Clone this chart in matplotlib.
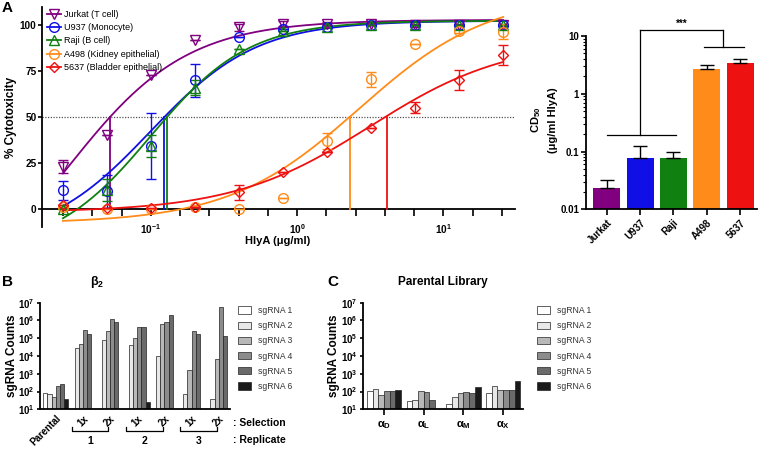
import numpy as np
import matplotlib
matplotlib.use("Agg")
import matplotlib.pyplot as plt
from matplotlib.transforms import blended_transform_factory
from matplotlib.lines import Line2D

plt.rcParams['font.family'] = ['Liberation Sans', 'DejaVu Sans']
plt.rcParams['mathtext.fontset'] = 'custom'
plt.rcParams['mathtext.rm'] = 'Liberation Sans'
plt.rcParams['mathtext.bf'] = 'Liberation Sans:bold'
plt.rcParams['mathtext.it'] = 'Liberation Sans:italic'

# ---------------- Panel A data ----------------
conc = [0.025, 0.05, 0.1, 0.2, 0.4, 0.8, 1.6, 3.2, 6.4, 12.8, 25.6]
cell_lines = ["Jurkat (T cell)", "U937 (Monocyte)", "Raji (B cell)",
              "A498 (Kidney epithelial)", "5637 (Bladder epithelial)"]
jurkat = [23, 40, 73, 92, 99, 101, 101, 101, 100, 100, 100]
jurkat_err = [3.5, 0, 0, 0, 2, 1.5, 1, 1, 1, 0.5, 0.5]
u937 = [10, 9.5, 34, 70, 93.5, 98, 99, 100, 100, 100, 100]
u937_err = [5, 9, 18, 9, 0, 0, 0, 0, 0, 0, 0]
raji = [0, 10, 34, 66, 87, 97, 99, 100, 100, 100, 100]
raji_err = [0, 6, 6, 4, 0, 0, 0, 0, 0, 0, 0]
a498 = [1, 0, 0, 1, 0, 6, 37, 70.5, 90, 97, 96.5]
a498_err = [0, 0, 0, 0, 0, 0, 4.5, 4, 0, 1, 4]
c5637 = [2, 0.5, 0.5, 1, 9, 20, 31, 44, 55, 70, 84]
c5637_err = [0, 0, 0, 0, 4, 0, 0, 0, 3, 5.5, 5.5]
# four-parameter logistic fits: bottom, top, log10 midpoint, hill slope
fit_bottom = [-60, -18, -23, -8, -2]
fit_top = [103, 102.5, 102.5, 117, 92]
fit_logmid = [-1.579, -1.002, -1.0, 0.4225, 0.5]
fit_hill = [1.06, 1.2, 1.3, 0.97, 0.92]
cd50_line = [0.0525, 0.1236, 0.129, 2.28, 4.11]

# CD50 bar chart
bar_names = ["Jurkat", "U937", "Raji", "A498", "5637"]
cd50 = [0.0237, 0.078, 0.078, 2.67, 3.43]
cd50_err = [0.0083, 0.048, 0.022, 0.47, 0.61]

# ---------------- Panel B data ----------------
b_groups = ["Parental", "1x", "2x", "1x", "2x", "1x", "2x"]
b_sg1 = [79, 0, 0, 0, 0, 0, 0]
b_sg2 = [70, 2.9e4, 8e4, 4.2e4, 1.05e4, 73, 38]
b_sg3 = [47, 4.8e4, 2.6e5, 1.07e5, 6e5, 1.6e3, 6.5e3]
b_sg4 = [205, 2.9e5, 1.2e6, 4.1e5, 8.5e5, 2.7e5, 5.5e6]
b_sg5 = [266, 1.7e5, 8.3e5, 4.1e5, 2e6, 1.7e5, 1.4e5]
b_sg6 = [36, 0, 0, 27, 0, 0, 0]
replicates = ["1", "2", "3"]

# ---------------- Panel C data ----------------
c_groups = [r"$\mathbf{\alpha_D}$", r"$\mathbf{\alpha_L}$", r"$\mathbf{\alpha_M}$", r"$\mathbf{\alpha_X}$"]
c_sg1 = [113, 30, 19, 79]
c_sg2 = [141, 33, 51, 208]
c_sg3 = [66, 108, 83, 128]
c_sg4 = [103, 98, 98, 128]
c_sg5 = [113, 33, 87, 123]
c_sg6 = [123, 0, 190, 400]

sg_labels = ["sgRNA 1", "sgRNA 2", "sgRNA 3", "sgRNA 4", "sgRNA 5", "sgRNA 6"]
sg_colors = ["#ffffff", "#e8e8e8", "#b8b8b8", "#8c8c8c", "#6a6a6a", "#1a1a1a"]

line_colors = ["#800080", "#1010e6", "#108010", "#ff8c1a", "#ee1111"]
markers = ["v", "o", "^", "o", "D"]
msizes = [7, 7, 7, 7, 5.5]

W, H = 760, 449
fig = plt.figure(figsize=(W / 100, H / 100), dpi=100)


def rect(l, t, r, b):
    return [l / W, 1 - b / H, (r - l) / W, (b - t) / H]


# ================= Panel A =================
axA = fig.add_axes(rect(42, 7, 515, 227))
series = [jurkat, u937, raji, a498, c5637]
errs = [jurkat_err, u937_err, raji_err, a498_err, c5637_err]
xs = np.logspace(np.log10(conc[0]), np.log10(conc[-1]), 300)
handles = []
for i in range(5):
    col = line_colors[i]
    y = fit_bottom[i] + (fit_top[i] - fit_bottom[i]) / (1 + 10 ** (fit_hill[i] * (fit_logmid[i] - np.log10(xs))))
    axA.plot(xs, y, color=col, lw=1.3, zorder=3)
    axA.errorbar(conc, series[i], yerr=errs[i], fmt='none', ecolor=col, elinewidth=1.0,
                 capsize=3.5, capthick=1.0, zorder=4)
    axA.plot(conc, series[i], linestyle='none', marker=markers[i], ms=msizes[i], mfc='none',
             mec=col, mew=1.0, zorder=5)
    axA.plot([cd50_line[i], cd50_line[i]], [0, 50], color=col, lw=1.3, zorder=3)
    handles.append(Line2D([], [], color=col, lw=1.3, marker=markers[i], ms=msizes[i],
                          mfc='none', mec=col, mew=1.0))
axA.axhline(50, color='#555555', lw=0.9, ls=(0, (1, 1.2)), zorder=1)
axA.set_xscale('log')
axA.set_xlim(10 ** -1.745, 10 ** 1.489)
axA.set_ylim(-10, 110)
axA.spines['top'].set_visible(False)
axA.spines['right'].set_visible(False)
axA.spines['bottom'].set_position(('data', 0))
axA.spines['left'].set_linewidth(1.3)
axA.spines['bottom'].set_linewidth(1.3)
axA.set_yticks([0, 25, 50, 75, 100])
axA.set_yticklabels(["0", "25", "50", "75", "100"], fontweight='bold', fontsize=7.2)
axA.tick_params(axis='y', direction='out', length=3, width=1.2, pad=1)
tk = 10 ** np.arange(-1.6, 1.41, 0.2)
axA.xaxis.set_minor_locator(matplotlib.ticker.NullLocator())
axA.set_xticks(tk)
labs = []
for t in np.arange(-1.6, 1.41, 0.2):
    r = round(t, 1)
    if abs(r - round(r)) < 1e-6:
        labs.append(r"$\mathbf{10^{%d}}$" % int(round(r)))
    else:
        labs.append("")
axA.set_xticklabels(labs, fontsize=7.2)
axA.tick_params(axis='x', direction='out', length=5, width=1.2, pad=4.5)
axA.set_ylabel("% Cytotoxicity", fontweight='bold', fontsize=8.5)
axA.yaxis.set_label_coords(-0.053, 0.5)
fig.text(278 / W, 1 - 240.5 / H, "HlyA (μg/ml)", fontweight='bold', fontsize=8,
         ha='center', va='center')
leg = axA.legend(handles, cell_lines, loc='upper left', bbox_to_anchor=(0.0, 1.012),
                 frameon=False, fontsize=6.5, labelspacing=0.48, handlelength=1.5,
                 handletextpad=0.35, borderpad=0.1)
fig.text(2 / W, 1 - 8 / H, "A", fontweight='bold', fontsize=11, ha='left', va='center')

# ================= CD50 bar chart =================
axD = fig.add_axes(rect(586, 36, 757, 209.3))
xpos = np.arange(len(bar_names))
axD.bar(xpos, cd50, width=0.81, color=line_colors, zorder=2)
axD.errorbar(xpos, cd50, yerr=[np.zeros(5), cd50_err], fmt='none', ecolor='black',
             elinewidth=1.0, capsize=5, capthick=1.0, zorder=3)
axD.set_yscale('log')
axD.set_ylim(0.01, 10)
axD.set_xlim(-0.62, 4.51)
axD.spines['top'].set_visible(False)
axD.spines['right'].set_visible(False)
axD.spines['left'].set_linewidth(1.3)
axD.spines['bottom'].set_linewidth(1.3)
axD.set_yticks([0.01, 0.1, 1, 10])
axD.set_yticklabels(["0.01", "0.1", "1", "10"], fontweight='bold', fontsize=7)
axD.tick_params(axis='y', which='major', length=3.5, width=1.2, pad=1.5)
axD.tick_params(axis='y', which='minor', length=2, width=0.8)
axD.set_xticks(xpos)
axD.set_xticklabels(bar_names, rotation=45, ha='right', rotation_mode='anchor',
                    fontweight='bold', fontsize=7)
axD.tick_params(axis='x', length=4, width=1.2, pad=2)
kw = dict(color='black', lw=0.9, clip_on=False)
axD.plot([0.02, 2.08], [0.193, 0.193], **kw)
axD.plot([2.93, 4.13], [6.5, 6.5], **kw)
axD.plot([1, 1], [0.193, 12.6], **kw)
axD.plot([3.48, 3.48], [6.5, 12.6], **kw)
axD.plot([1, 3.48], [12.6, 12.6], **kw)
axD.text(2.25, 13.5, "***", ha='center', va='bottom', fontsize=7, fontweight='bold')
fig.text(536 / W, 1 - 120 / H, r"CD$_\mathbf{50}$", rotation=90, fontweight='bold',
         fontsize=8, ha='center', va='center')
fig.text(553 / W, 1 - 120 / H, "(μg/ml HlyA)", rotation=90, fontweight='bold',
         fontsize=8, ha='center', va='center')

# ================= Panel B =================
axB = fig.add_axes(rect(40, 302.7, 230, 409.3))
bdata = [b_sg1, b_sg2, b_sg3, b_sg4, b_sg5, b_sg6]
gx = np.arange(len(b_groups))
bw = 0.153
for j in range(6):
    vals = np.array(bdata[j], dtype=float)
    vals[vals <= 0] = np.nan
    axB.bar(gx + (j - 2.5) * bw, vals, width=bw, color=sg_colors[j], edgecolor='#222222',
            linewidth=0.5, zorder=2, label=sg_labels[j])
axB.set_yscale('log')
axB.set_ylim(10, 1e7)
axB.set_xlim(-0.578, 6.415)
for s in ['top', 'right']:
    axB.spines[s].set_visible(False)
axB.spines['left'].set_linewidth(1.3)
axB.spines['bottom'].set_linewidth(1.3)
axB.set_yticks([10 ** k for k in range(1, 8)])
axB.set_yticklabels([r"$\mathbf{10^{%d}}$" % k for k in range(1, 8)], fontsize=7)
axB.yaxis.set_minor_locator(matplotlib.ticker.NullLocator())
axB.tick_params(axis='y', length=2.5, width=1.2, pad=1.5)
axB.set_xticks(gx)
axB.set_xticklabels(b_groups, rotation=45, ha='right', rotation_mode='anchor',
                    fontweight='bold', fontsize=7)
axB.tick_params(axis='x', length=0, pad=3)
axB.set_ylabel("sgRNA Counts", fontweight='bold', fontsize=8.5)
axB.yaxis.set_label_coords(-0.116, 0.5)
axB.set_title(r"$\mathbf{\beta_2}$", fontsize=9, pad=13, x=0.3)
trB = blended_transform_factory(axB.transData, axB.transAxes)
for r in range(3):
    a = gx[1 + 2 * r] - 0.41
    b = gx[2 + 2 * r] - 0.065
    axB.plot([a, a, b, b], [-0.169, -0.2, -0.2, -0.169], color='black', lw=0.9,
             transform=trB, clip_on=False)
    axB.text((a + b) / 2, -0.30, replicates[r], transform=trB, ha='center', va='center',
             fontweight='bold', fontsize=7.5)
axB.text(1.015, -0.128, ": Selection", transform=axB.transAxes, ha='left', va='center',
         fontweight='bold', fontsize=7.5)
axB.text(1.015, -0.284, ": Replicate", transform=axB.transAxes, ha='left', va='center',
         fontweight='bold', fontsize=7.5)
axB.legend(loc='upper left', bbox_to_anchor=(1.02, 1.01), frameon=False, fontsize=6.2,
           labelspacing=0.72, handlelength=1.5, handleheight=0.9, handletextpad=0.8,
           borderpad=0, labelcolor='#333333')
fig.text(2 / W, 1 - 282 / H, "B", fontweight='bold', fontsize=11, ha='left', va='center')

# ================= Panel C =================
axC = fig.add_axes(rect(363.3, 302.7, 523, 409.3))
cdata = [c_sg1, c_sg2, c_sg3, c_sg4, c_sg5, c_sg6]
cx = np.arange(len(c_groups))
cw = 0.1436
for j in range(6):
    vals = np.array(cdata[j], dtype=float)
    vals[vals <= 0] = np.nan
    axC.bar(cx + (j - 2.5) * cw, vals, width=cw, color=sg_colors[j], edgecolor='#222222',
            linewidth=0.5, zorder=2, label=sg_labels[j])
axC.set_yscale('log')
axC.set_ylim(10, 1e7)
axC.set_xlim(-0.52, 3.5)
for s in ['top', 'right']:
    axC.spines[s].set_visible(False)
axC.spines['left'].set_linewidth(1.3)
axC.spines['bottom'].set_linewidth(1.3)
axC.set_yticks([10 ** k for k in range(1, 8)])
axC.set_yticklabels([r"$\mathbf{10^{%d}}$" % k for k in range(1, 8)], fontsize=7)
axC.yaxis.set_minor_locator(matplotlib.ticker.NullLocator())
axC.tick_params(axis='y', length=2.5, width=1.2, pad=1.5)
axC.set_xticks(cx)
axC.set_xticklabels(c_groups, fontsize=8)
axC.tick_params(axis='x', length=4, width=1.2, pad=3)
axC.set_ylabel("sgRNA Counts", fontweight='bold', fontsize=8.5)
axC.yaxis.set_label_coords(-0.146, 0.5)
axC.set_title("Parental Library", fontweight='bold', fontsize=8.5, pad=13, x=0.5)
axC.legend(loc='upper left', bbox_to_anchor=(1.06, 1.01), frameon=False, fontsize=6.2,
           labelspacing=0.72, handlelength=1.5, handleheight=0.9, handletextpad=0.8,
           borderpad=0, labelcolor='#333333')
fig.text(327 / W, 1 - 282 / H, "C", fontweight='bold', fontsize=11, ha='left', va='center')

fig.savefig("out.png", dpi=100)
